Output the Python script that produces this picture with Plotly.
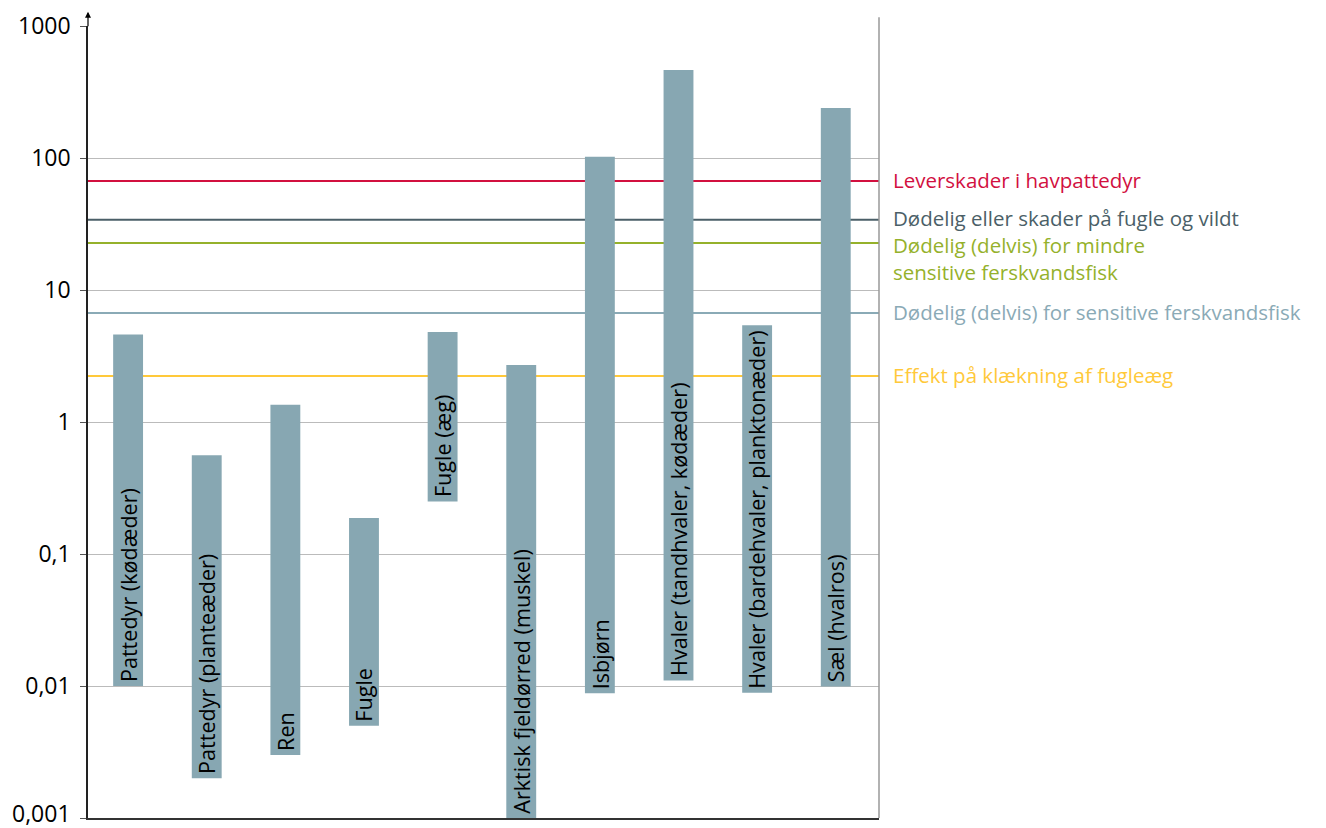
import numpy as np
import plotly.graph_objects as go

# ranges per species group (lowest / highest value)
categories = ['Pattedyr (kødæder)', 'Pattedyr (planteæder)', 'Ren', 'Fugle', 'Fugle (æg)',
              'Arktisk fjeldørred (muskel)', 'Isbjørn', 'Hvaler (tandhvaler, kødæder)',
              'Hvaler (bardehvaler, planktonæder)', 'Sæl (hvalros)']
low = [0.01, 0.002, 0.003, 0.005, 0.25, 0.001, 0.0088, 0.011, 0.0089, 0.0099]
high = [4.6, 0.56, 1.35, 0.187, 4.8, 2.7, 102, 464, 5.4, 239]

# effect thresholds
thr_labels = ['Leverskader i havpattedyr', 'Dødelig eller skader på fugle og vildt',
              'Dødelig (delvis) for mindre<br>sensitive ferskvandsfisk',
              'Dødelig (delvis) for sensitive ferskvandsfisk', 'Effekt på klækning af fugleæg']
thr_values = [67, 34, 22.7, 6.7, 2.23]
thr_colors = ['#D2103F', '#4B5F68', '#95B12B', '#8AAAB6', '#FFC93A']
thr_shift = [1, 2, -15, 1, 1]

tick_vals = [0.001, 0.01, 0.1, 1, 10, 100, 1000]
tick_text = ['0,001', '0,01', '0,1', '1', '10', '100', '1000']

FONT = 'Open Sans'
x = list(range(len(categories)))

fig = go.Figure(go.Bar(
    x=x,
    y=[h - l for h, l in zip(high, low)],
    base=low,
    width=0.38,
    marker=dict(color='#87A7B2', line=dict(width=0)),
    hovertext=categories,
))

for i, (cat, lo) in enumerate(zip(categories, low)):
    fig.add_annotation(x=i, y=np.log10(lo), text=cat, textangle=-90, showarrow=False,
                       xanchor='center', yanchor='bottom', yshift=2,
                       font=dict(family=FONT, size=21.6, color='black'))

for lab, val, col, sh in zip(thr_labels, thr_values, thr_colors, thr_shift):
    fig.add_shape(type='line', xref='paper', x0=0, x1=1, yref='y', y0=val, y1=val,
                  line=dict(color=col, width=2), layer='below')
    fig.add_annotation(xref='paper', x=1, y=np.log10(val), text=lab, showarrow=False,
                       xanchor='left', yanchor='middle', xshift=12, yshift=sh,
                       align='left', font=dict(family=FONT, size=20.5, color=col))

# lowest tick label sits right at the bottom edge; nudge it up a little so it is not cut
fig.add_annotation(xref='paper', x=0, y=np.log10(tick_vals[0]), text=tick_text[0],
                   showarrow=False, xanchor='right', yanchor='middle', xshift=-15, yshift=5,
                   font=dict(family=FONT, size=23, color='black'))
shown_text = [''] + tick_text[1:]

# right border and arrow on y axis
fig.add_shape(type='line', xref='paper', x0=1, x1=1, yref='paper', y0=0, y1=1.011,
              line=dict(color='#999999', width=1.5))
fig.add_annotation(xref='paper', yref='paper', x=0, y=1.018, ax=0, ay=16, text='',
                   showarrow=True, arrowhead=2, arrowsize=1, arrowwidth=1.2,
                   arrowcolor='black')

# page body adds 8px margin, so the figure is sized to fit inside it
fig.update_layout(
    width=1310, height=820,
    margin=dict(l=80, r=439, t=18, b=10, autoexpand=False),
    plot_bgcolor='white', paper_bgcolor='white',
    showlegend=False,
    font=dict(family=FONT, size=20, color='black'),
)
fig.update_xaxes(range=[-0.51, 9.55], showticklabels=False, showgrid=False,
                 showline=True, linecolor='#333333', linewidth=2, ticks='', zeroline=False)
fig.update_yaxes(type='log', range=[-3, 3], tickvals=tick_vals, ticktext=shown_text,
                 showgrid=True, gridcolor='#BBBBBB', gridwidth=1,
                 showline=True, linecolor='#222222', linewidth=1.5,
                 ticks='outside', ticklen=6, tickcolor='#555555', ticklabelstandoff=5,
                 tickfont=dict(family=FONT, size=23, color='black'), zeroline=False)

fig.write_html("out.html")
